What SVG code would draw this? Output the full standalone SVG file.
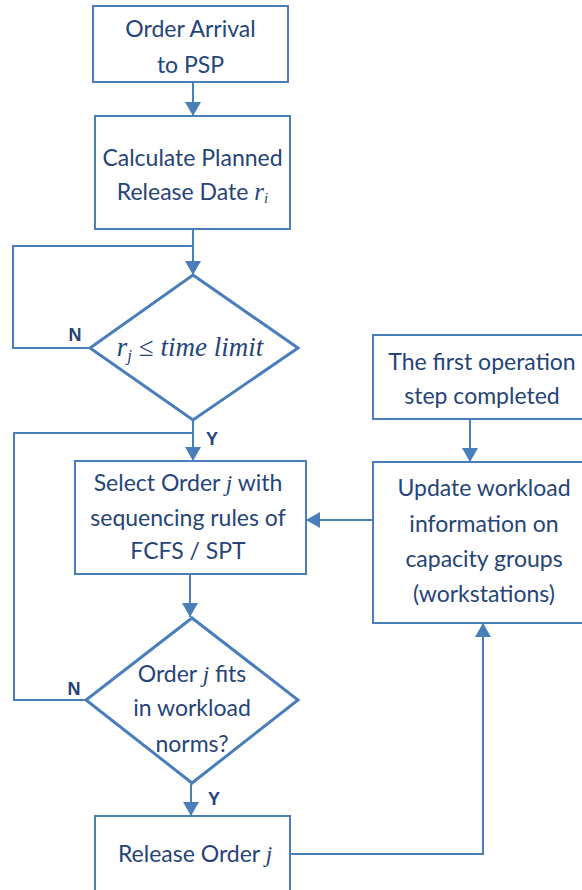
<svg xmlns="http://www.w3.org/2000/svg" width="582" height="890" viewBox="0 0 582 890">
<defs>
<style>
.box{fill:#ffffff;stroke:#4a7ebb;stroke-width:2}
.dia{fill:#ffffff;stroke:#4a7ebb;stroke-width:3}
.t{font-family:Lato,"Open Sans",sans-serif;font-size:23px;fill:#264478;text-anchor:middle}
.m{font-family:"Liberation Serif","DejaVu Serif",serif;font-style:italic}
.lbl{font-family:"Liberation Sans",Arial,sans-serif;font-weight:bold;font-size:18px;fill:#264478;text-anchor:middle}
.c{fill:none;stroke:#4a7ebb;stroke-width:2}
</style>
<marker id="ah" markerUnits="userSpaceOnUse" markerWidth="14" markerHeight="16" viewBox="0 0 14 16" refX="14" refY="8" orient="auto">
<path d="M0,0 L14,8 L0,16 z" fill="#4a7ebb"/>
</marker>
</defs>
<rect width="582" height="890" fill="#ffffff"/>
<g id="connectors">
<path class="c" d="M193,82 V116" marker-end="url(#ah)"/>
<path class="c" d="M193,229 V275" marker-end="url(#ah)"/>
<path class="c" d="M90,348 H13 V246 H193"/>
<path class="c" d="M193,420 V461" marker-end="url(#ah)"/>
<path class="c" d="M86,700 H14 V433 H193"/>
<path class="c" d="M190,574 V617" marker-end="url(#ah)"/>
<path class="c" d="M191,783 V816" marker-end="url(#ah)"/>
<path class="c" d="M290,854 H483 V623" marker-end="url(#ah)"/>
<path class="c" d="M373,520 H306" marker-end="url(#ah)"/>
<path class="c" d="M470,419 V462" marker-end="url(#ah)"/>
</g>
<g id="order-arrival">
<rect class="box" x="93" y="6" width="195" height="76"/>
<text class="t" x="190.5" y="37">Order Arrival</text>
<text class="t" x="190.5" y="73">to PSP</text>
</g>
<g id="calc-release">
<rect class="box" x="95" y="116" width="195" height="113"/>
<text class="t" x="192.5" y="166">Calculate Planned</text>
<text class="t" x="192.5" y="200">Release Date <tspan class="m" font-size="25">r</tspan><tspan class="m" font-size="15" dy="3">i</tspan></text>
</g>
<g id="time-limit">
<polygon class="dia" points="193,275 298,348 193,420 90,348"/>
<text class="t m" x="190" y="356" style="font-size:27px"><tspan>r</tspan><tspan font-size="17" dy="5">j</tspan><tspan dy="-5" font-style="normal"> ≤ </tspan><tspan>time limit</tspan></text>
</g>
<g id="select-order">
<rect class="box" x="75" y="461" width="231" height="113"/>
<text class="t" x="188" y="491">Select Order  <tspan class="m">j</tspan> with</text>
<text class="t" x="188" y="526">sequencing rules of</text>
<text class="t" x="188" y="559">FCFS / SPT</text>
</g>
<g id="fits-norms">
<polygon class="dia" points="192,618 298,700 192,783 86,700"/>
<text class="t" x="192" y="682">Order <tspan class="m">j</tspan> fits</text>
<text class="t" x="192" y="716">in workload</text>
<text class="t" x="192" y="752">norms?</text>
</g>
<g id="release-order">
<rect class="box" x="95" y="816" width="195" height="90"/>
<text class="t" x="195" y="862">Release Order <tspan class="m">j</tspan></text>
</g>
<g id="first-op">
<rect class="box" x="373" y="335" width="218" height="84"/>
<text class="t" x="482" y="370">The first operation</text>
<text class="t" x="482" y="404">step completed</text>
</g>
<g id="update-workload">
<rect class="box" x="373" y="462" width="218" height="161"/>
<text class="t" x="484" y="496">Update workload</text>
<text class="t" x="484" y="532">information on</text>
<text class="t" x="484" y="567">capacity groups</text>
<text class="t" x="484" y="602">(workstations)</text>
</g>
<g id="labels">
<text class="lbl" x="75" y="341">N</text>
<text class="lbl" x="212" y="445">Y</text>
<text class="lbl" x="74" y="695">N</text>
<text class="lbl" x="214" y="805">Y</text>
</g>
</svg>
